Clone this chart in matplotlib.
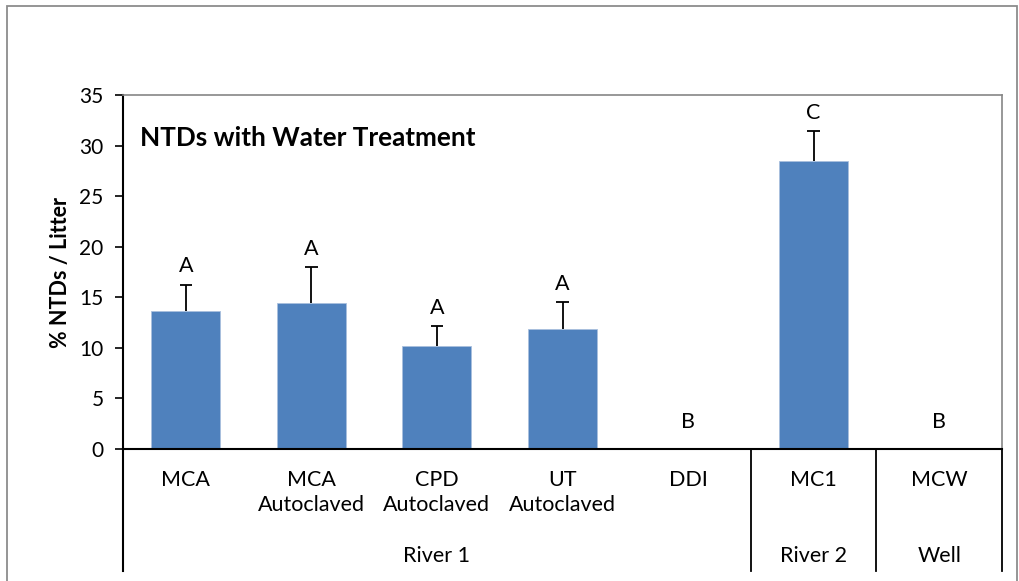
import numpy as np
import matplotlib
matplotlib.use("Agg")
from matplotlib import pyplot as plt
from matplotlib.patches import Rectangle

# data
categories = ["MCA", "MCA\nAutoclaved", "CPD\nAutoclaved", "UT\nAutoclaved", "DDI", "MC1", "MCW"]
values = [13.65, 14.4, 10.2, 11.9, 0.0, 28.5, 0.0]
errors = [2.6, 3.6, 1.95, 2.65, 0.0, 2.95, 0.0]
letters = ["A", "A", "A", "A", "B", "C", "B"]
groups = ["River 1", "River 2", "Well"]
group_sizes = [5, 1, 1]

plt.rcParams['font.family'] = ['Lato', 'DejaVu Sans']

fig = plt.figure(figsize=(10.19, 5.81), dpi=100)
W, H = 1019, 581
ax = fig.add_axes([123 / W, (H - 449) / H, 879 / W, 354 / H])

# outer chart frame
fig.patches.append(Rectangle((7 / W, -0.05), 1010 / W, (H - 6) / H + 0.05,
                             transform=fig.transFigure, fill=False,
                             edgecolor='#8c8c8c', linewidth=1.3))

x = np.arange(len(categories))
ax.bar(x, values, width=0.55, color='#4F81BD', edgecolor='#a9c0de', linewidth=0.6, zorder=2)

# upper error bars only
for xi, v, e in zip(x, values, errors):
    if e > 0:
        ax.vlines(xi, v, v + e, color='black', linewidth=1.3, zorder=3)
        ax.hlines(v + e, xi - 0.05, xi + 0.05, color='black', linewidth=1.3, zorder=3)

# significance letters
for xi, v, e, s in zip(x, values, errors, letters):
    off = 6 if e > 0 else 12
    ax.annotate(s, (xi, v + e), xytext=(0, off), textcoords='offset points',
                ha='center', va='bottom', fontsize=15.5)

ax.set_xlim(-0.5, len(categories) - 0.5)
ax.set_ylim(0, 35)
ax.set_yticks(np.arange(0, 36, 5))
ax.tick_params(axis='y', direction='out', length=6, width=1.2, labelsize=15, pad=8)
ax.set_xticks(x)
ax.set_xticklabels(categories, fontsize=15.5, linespacing=1.35)
ax.tick_params(axis='x', length=0, pad=15)

for side in ['top', 'right']:
    ax.spines[side].set_color('#868686')
    ax.spines[side].set_linewidth(1.2)
ax.spines['left'].set_linewidth(1.5)
ax.spines['bottom'].set_linewidth(1.5)

ax.set_ylabel("% NTDs / Litter", fontsize=15.5, fontweight='bold', labelpad=6)
ax.text(0.019, 0.878, "NTDs with Water Treatment", transform=ax.transAxes,
        fontsize=18.8, fontweight='bold', va='center', ha='left')

# multi-level category axis
tr = ax.get_xaxis_transform()
y_low = -122 / 354
ax.plot([-0.5, -0.5], [0, y_low], transform=tr, color='black', linewidth=1.5, clip_on=False)
start = -0.5
for g, n in zip(groups, group_sizes):
    end = start + n
    ax.plot([end, end], [0, y_low], transform=tr, color='black', linewidth=1.3, clip_on=False)
    ax.text((start + end) / 2, -107 / 354, g, transform=tr, ha='center', va='center', fontsize=15.5)
    start = end

fig.savefig("out.png", dpi=100)
